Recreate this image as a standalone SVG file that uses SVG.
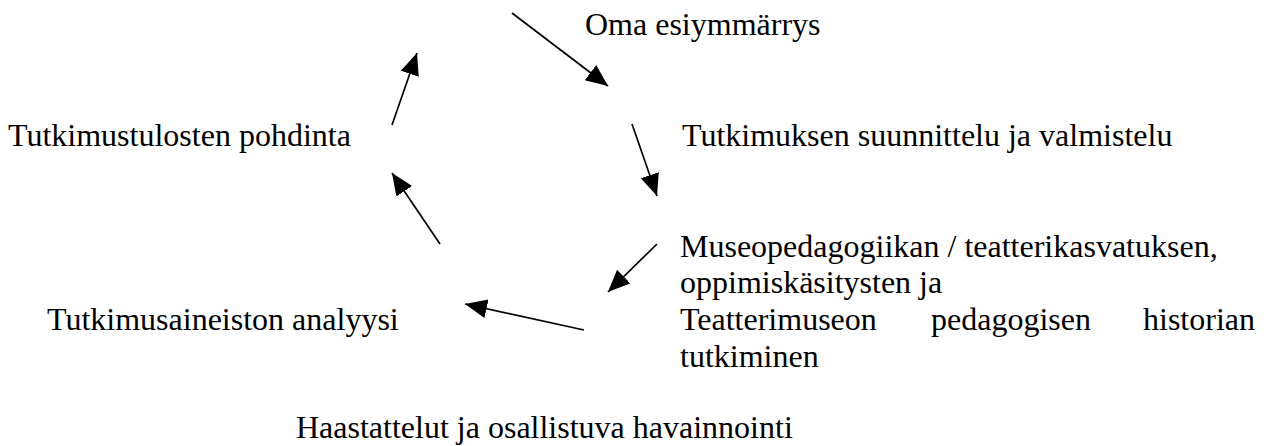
<svg xmlns="http://www.w3.org/2000/svg" width="1268" height="446" viewBox="0 0 1268 446">
<style>
text{font-family:"Liberation Serif","Times New Roman",serif;font-size:32px;fill:#000}
.c{stroke:#000;stroke-width:1.7;fill:none;marker-end:url(#ah)}
</style>
<defs>
<marker id="ah" markerUnits="userSpaceOnUse" markerWidth="23" markerHeight="21" refX="22" refY="9.5" orient="auto" viewBox="0 0 23 21">
<path d="M0,0 L22,9.5 L0,19 Z" fill="#000"/>
</marker>
</defs>
<rect width="1268" height="446" fill="#fff"/>
<g id="n-oma"><text x="585" y="35">Oma esiymmärrys</text></g>
<g id="n-suunnittelu"><text x="682" y="146">Tutkimuksen suunnittelu ja valmistelu</text></g>
<g id="n-museo">
<text x="680" y="257">Museopedagogiikan / teatterikasvatuksen,</text>
<text x="680" y="293">oppimiskäsitysten ja</text>
<text y="330"><tspan x="680">Teatterimuseon</tspan><tspan x="931">pedagogisen</tspan><tspan x="1143">historian</tspan></text>
<text x="680" y="367">tutkiminen</text>
</g>
<g id="n-haastattelut"><text x="296" y="438">Haastattelut ja osallistuva havainnointi</text></g>
<g id="n-analyysi"><text x="47" y="330">Tutkimusaineiston analyysi</text></g>
<g id="n-pohdinta"><text x="8" y="146">Tutkimustulosten pohdinta</text></g>
<g id="connectors">
<line class="c" x1="512" y1="13" x2="608" y2="86"/>
<line class="c" x1="632" y1="124" x2="657" y2="196"/>
<line class="c" x1="657" y1="244" x2="608" y2="292"/>
<line class="c" x1="584" y1="330" x2="465" y2="304"/>
<line class="c" x1="440" y1="244" x2="392" y2="173"/>
<line class="c" x1="392" y1="125" x2="417" y2="53"/>
</g>
</svg>
